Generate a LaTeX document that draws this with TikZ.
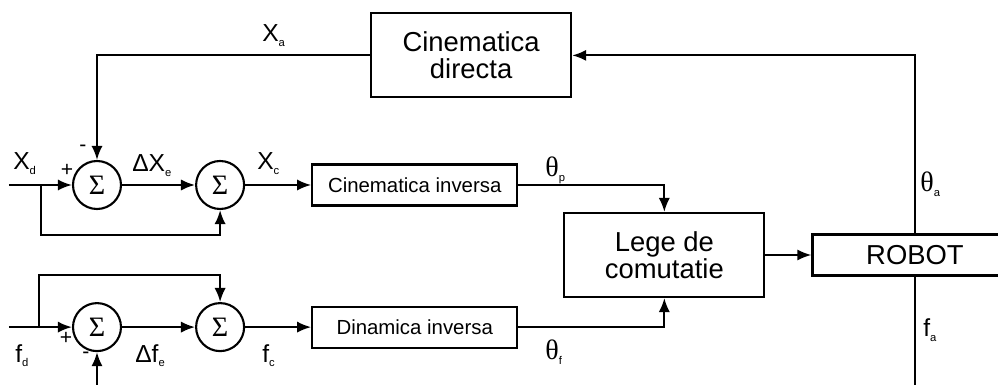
\documentclass[tikz,border=0pt]{standalone}
\usepackage{fontspec}
\setmainfont{Liberation Sans}
\newfontfamily\greekfont{Liberation Serif}
\usepackage{tikz}
\usetikzlibrary{arrows.meta}
\usetikzlibrary{shapes,positioning}
\tikzset{>={Latex[length=10pt,width=8pt]}}
\tikzset{sig-line/.style={line width=1.5pt}}
\tikzset{sum-node/.style={draw, circle, line width=1.5pt, inner sep=0, minimum size=1.2cm,
        font=\greekfont\fontsize{20}{22}\selectfont}}
\tikzset{block-small/.style={draw, line width=1.5pt, inner sep=0, minimum width=5.125cm, minimum height=1.025cm,
        font=\fontsize{14.5}{16}\selectfont}}
\tikzset{block-big/.style={draw, line width=1.5pt, inner sep=0, minimum width=5cm, minimum height=2.1cm,
        align=center, font=\fontsize{19.5}{22}\selectfont}}
\tikzset{robot-box/.style={block-small, font=\fontsize{19.5}{22}\selectfont}}
\tikzset{sig-label/.style={inner sep=0, anchor=base west, font=\fontsize{17.5}{20}\selectfont}}
\tikzset{sign-label/.style={inner sep=0, font=\fontsize{15}{16}\selectfont}}
\newcommand{\lsub}[2]{#1\raisebox{-3.5pt}{\fontsize{8}{9}\selectfont #2}}
\newcommand{\thetasym}{{\greekfont\fontsize{20}{20}\selectfont θ}}

\begin{document}
\begin{tikzpicture}
            \useasboundingbox (0,0) rectangle (24.95,-9.625);

            % summing points
            \node[sum-node] (sum1) at (2.425,-4.625) {Σ};
            \node[sum-node, right=1.825cm of sum1] (sum2) {Σ};
            \node[sum-node, below=2.3cm of sum1] (sum3) {Σ};
            \node[sum-node, below=2.3cm of sum2] (sum4) {Σ};

            % blocks
            \node[block-small, right=1.65cm of sum2] (cinv) {Cinematica inversa};
            \node[block-small, right=1.65cm of sum4] (dinv) {Dinamica inversa};
            \node[block-big, right=1.125cm of cinv, yshift=-1.75cm] (lege) {Lege de\\[-3pt]comutatie};
            \node[robot-box, right=1.15cm of lege] (robot) {ROBOT};
            \node[block-big, above=1.625cm of cinv, xshift=1.41cm] (cdir) {Cinematica\\[-3pt]directa};

            \coordinate[left=1.575cm of sum1] (xdin);
            \coordinate[left=0.775cm of sum1] (xbr);
            \coordinate[left=1.575cm of sum3] (fdin);
            \coordinate[left=0.825cm of sum3] (fbr);
            \coordinate[below=1.2cm of sum3] (fain);
            \coordinate[below=3cm of robot] (robotout);

            % position path
            \draw[->, sig-line] (xdin) -- (sum1);
            \draw[->, sig-line] (xbr) -- ++(0,-1.25cm) -| (sum2.south);
            \draw[->, sig-line] (sum1) -- (sum2);
            \draw[->, sig-line] (sum2) -- (cinv);
            \draw[->, sig-line] (cinv.east) -| (lege.north);

            % force path
            \draw[->, sig-line] (fdin) -- (sum3);
            \draw[->, sig-line] (fbr) -- ++(0,1.3cm) -| (sum4.north);
            \draw[->, sig-line] (fain) -- (sum3.south);
            \draw[->, sig-line] (sum3) -- (sum4);
            \draw[->, sig-line] (sum4) -- (dinv);
            \draw[->, sig-line] (dinv.east) -| (lege.south);

            \draw[->, sig-line] (lege) -- (robot);
            \draw[->, sig-line] (robot.north) |- (cdir.east);
            \draw[->, sig-line] (cdir.west) -| (sum1.north);
            \draw[sig-line] (robot.south) -- (robotout);

            % labels
            \node[sig-label] (lxd) at (0.325,-4.25) {\lsub{X}{d}};
            \node[sig-label] (lxa) at (6.55,-1.05) {\lsub{X}{a}};
            \node[sig-label] (lxe) at (3.3,-4.3) {\lsub{ΔX}{e}};
            \node[sig-label] (lxc) at (6.425,-4.25) {\lsub{X}{c}};
            \node[sig-label] (lfd) at (0.375,-9.05) {\lsub{f}{d}};
            \node[sig-label] (lfe) at (3.375,-9.05) {\lsub{Δf}{e}};
            \node[sig-label] (lfc) at (6.55,-9.05) {\lsub{f}{c}};
            \node[sig-label] (lfa) at (23.075,-8.425) {\lsub{f}{a}};
            \node[sig-label] (ltp) at (13.625,-4.425) {\lsub{\thetasym}{p}};
            \node[sig-label] (ltf) at (13.625,-9.0) {\lsub{\thetasym}{f}};
            \node[sig-label] (lta) at (23.0,-4.8) {\lsub{\thetasym}{a}};

            \node[sign-label] (s1p) at (1.675,-4.25) {+};
            \node[sign-label] (s1m) at (2.075,-3.7) {-};
            \node[sign-label] (s3p) at (1.65,-8.45) {+};
            \node[sign-label] (s3m) at (2.15,-8.875) {-};
        \end{tikzpicture}
\end{document}
